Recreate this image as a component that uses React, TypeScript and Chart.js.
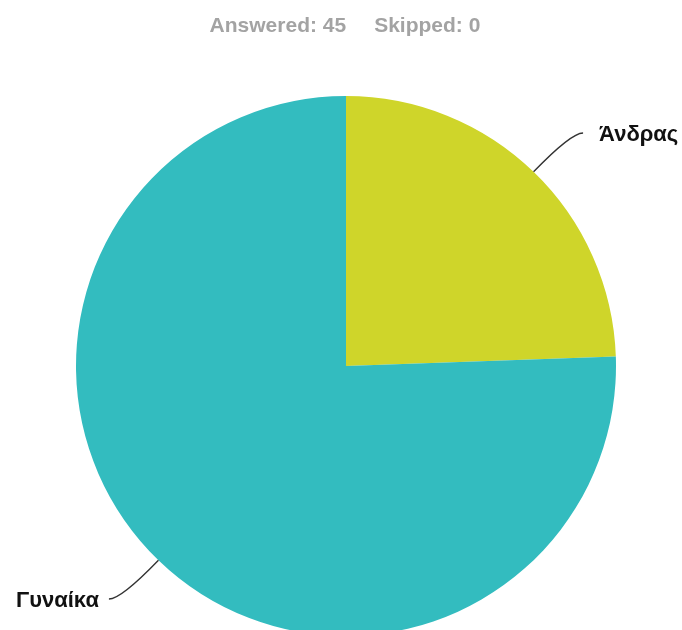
import React, { useEffect, useRef } from "react";
import { Chart, registerables } from "chart.js";

Chart.register(...registerables);

const categories = ["Άνδρας", "Γυναίκα"];
const values = [11, 34];
const colors = ["#cfd52a", "#33bcbf"];
const answered = 45;
const skipped = 0;

const leaderPlugin = {
  id: "leaderLabels",
  afterDatasetsDraw(chart: any) {
    const ctx = chart.ctx;
    const meta = chart.getDatasetMeta(0);
    ctx.save();
    meta.data.forEach((arc: any, i: number) => {
      const { x, y, startAngle, endAngle, outerRadius } = arc.getProps(
        ["x", "y", "startAngle", "endAngle", "outerRadius"],
        true
      );
      const mid = (startAngle + endAngle) / 2;
      const cos = Math.cos(mid);
      const sin = Math.sin(mid);
      const sx = x + cos * outerRadius;
      const sy = y + sin * outerRadius;
      const ex = x + cos * outerRadius * 1.2;
      const ey = y + sin * outerRadius * 1.2;
      const right = cos >= 0;
      const tx = ex + (right ? 12 : -12);
      ctx.beginPath();
      ctx.moveTo(sx, sy);
      ctx.quadraticCurveTo(ex, ey, tx, ey);
      ctx.strokeStyle = "#333";
      ctx.lineWidth = 1.4;
      ctx.stroke();
      ctx.font = "bold 22px 'Liberation Sans', Arial, sans-serif";
      ctx.fillStyle = "#111";
      ctx.textBaseline = "middle";
      ctx.textAlign = right ? "left" : "right";
      ctx.fillText(categories[i], tx + (right ? 16 : -10), ey + 2);
    });
    ctx.restore();
  },
};

export default function App() {
  const ref = useRef<HTMLCanvasElement>(null);
  useEffect(() => {
    if (!ref.current) return;
    const chart = new Chart(ref.current, {
      type: "pie",
      data: {
        labels: categories,
        datasets: [
          {
            data: values,
            backgroundColor: colors,
            borderWidth: 0,
          },
        ],
      },
      options: {
        animation: false,
        responsive: false,
        layout: { padding: { left: 76, right: 66, top: 96, bottom: 64 } },
        plugins: {
          legend: { display: false },
          tooltip: { enabled: false },
        },
      },
      plugins: [leaderPlugin],
    });
    return () => chart.destroy();
  }, []);
  return (
    <div
      style={{
        position: "fixed",
        left: 0,
        top: 0,
        width: 682,
        height: 630,
        overflow: "hidden",
        background: "#fff",
      }}
    >
      <div
        style={{
          position: "absolute",
          top: 13,
          left: 0,
          width: 690,
          textAlign: "center",
          fontFamily: "'Liberation Sans', Arial, sans-serif",
          fontWeight: "bold",
          fontSize: 21,
          color: "#a3a3a3",
          whiteSpace: "pre",
        }}
      >
        <span>{`Answered: ${answered}`}</span>
        <span style={{ marginLeft: 28 }}>{`Skipped: ${skipped}`}</span>
      </div>
      <canvas ref={ref} width={682} height={700} style={{ display: "block" }} />
    </div>
  );
}
